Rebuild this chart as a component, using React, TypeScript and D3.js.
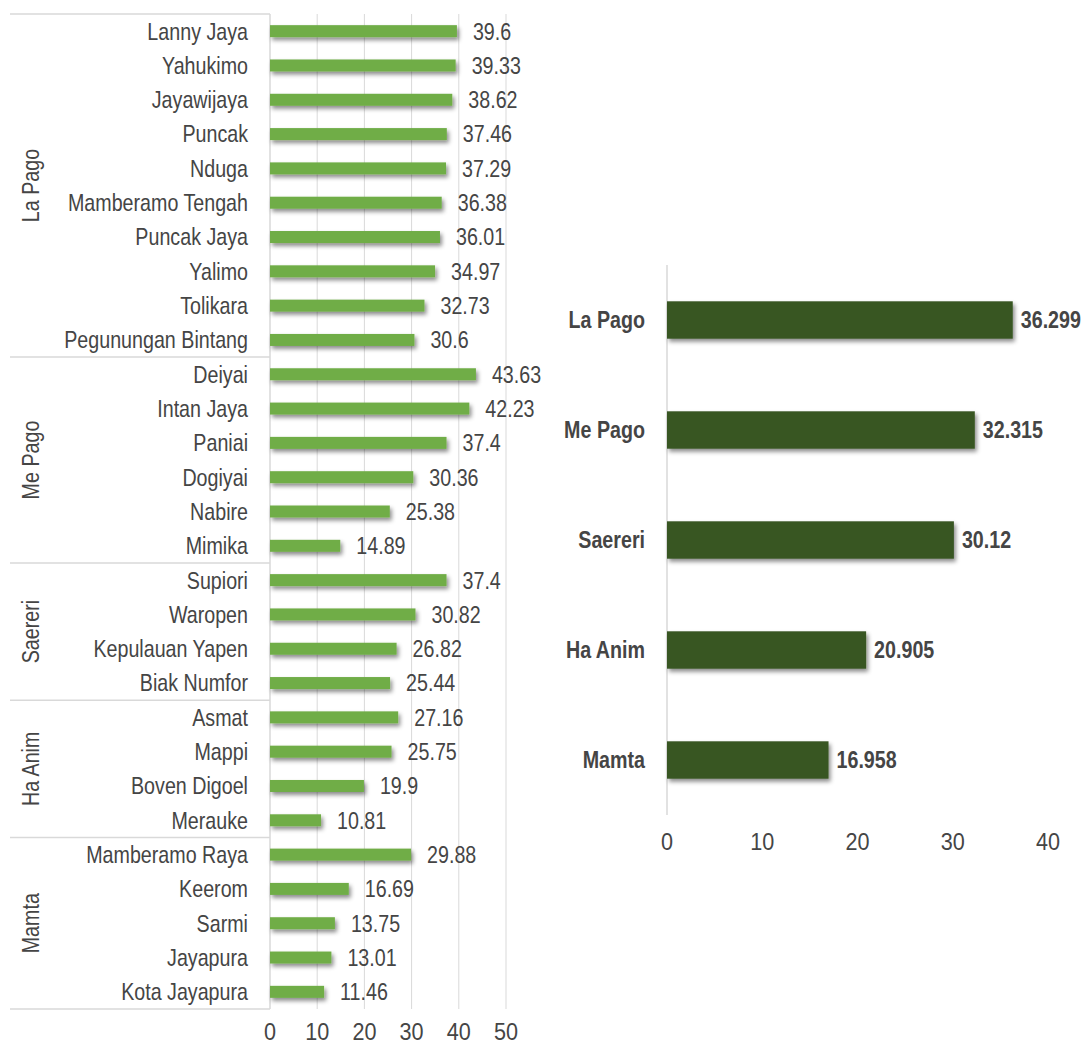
import React from "react";
import * as d3 from "d3";

// Regencies grouped by customary region, with their values
const groups = ["La Pago", "Me Pago", "Saereri", "Ha Anim", "Mamta"];
const regencyGroup = [
  "La Pago", "La Pago", "La Pago", "La Pago", "La Pago", "La Pago", "La Pago", "La Pago", "La Pago", "La Pago",
  "Me Pago", "Me Pago", "Me Pago", "Me Pago", "Me Pago", "Me Pago",
  "Saereri", "Saereri", "Saereri", "Saereri",
  "Ha Anim", "Ha Anim", "Ha Anim", "Ha Anim",
  "Mamta", "Mamta", "Mamta", "Mamta", "Mamta",
];
const regencies = [
  "Lanny Jaya", "Yahukimo", "Jayawijaya", "Puncak", "Nduga", "Mamberamo Tengah", "Puncak Jaya", "Yalimo", "Tolikara", "Pegunungan Bintang",
  "Deiyai", "Intan Jaya", "Paniai", "Dogiyai", "Nabire", "Mimika",
  "Supiori", "Waropen", "Kepulauan Yapen", "Biak Numfor",
  "Asmat", "Mappi", "Boven Digoel", "Merauke",
  "Mamberamo Raya", "Keerom", "Sarmi", "Jayapura", "Kota Jayapura",
];
const regencyValues = [
  39.6, 39.33, 38.62, 37.46, 37.29, 36.38, 36.01, 34.97, 32.73, 30.6,
  43.63, 42.23, 37.4, 30.36, 25.38, 14.89,
  37.4, 30.82, 26.82, 25.44,
  27.16, 25.75, 19.9, 10.81,
  29.88, 16.69, 13.75, 13.01, 11.46,
];
const leftTicks = [0, 10, 20, 30, 40, 50];

// Regional averages
const regions = ["La Pago", "Me Pago", "Saereri", "Ha Anim", "Mamta"];
const regionValues = [36.299, 32.315, 30.12, 20.905, 16.958];
const rightTicks = [0, 10, 20, 30, 40];

const FONT = "'Liberation Sans', Arial, sans-serif";
const TEXT = "#454545";
const GRID = "#d9d9d9";

type NTextProps = {
  x: number;
  y: number;
  anchor?: "start" | "middle" | "end";
  size?: number;
  squeeze?: number;
  bold?: boolean;
  rotate?: number;
  children: React.ReactNode;
};

// Condensed text: horizontally compressed sans glyphs
function NText({ x, y, anchor = "start", size = 24, squeeze = 0.82, bold = false, rotate = 0, children }: NTextProps) {
  return (
    <text
      transform={`translate(${x},${y}) rotate(${rotate}) scale(${squeeze},1)`}
      textAnchor={anchor}
      dy="0.35em"
      fontSize={size}
      fontWeight={bold ? "bold" : "normal"}
      fill={TEXT}
    >
      {children}
    </text>
  );
}

export default function App() {
  const width = 1084;
  const height = 1047;

  // Left panel scales
  const lx = d3.scaleLinear().domain([0, 50]).range([270, 506]);
  const ly = d3.scaleBand<string>().domain(regencies).range([14, 1009]);
  const lBar = 12;

  // Group extents on the left panel
  const groupExtents = groups.map((g) => {
    const idx = regencyGroup.map((gg, i) => (gg === g ? i : -1)).filter((i) => i >= 0);
    const y0 = ly(regencies[idx[0]])!;
    const y1 = ly(regencies[idx[idx.length - 1]])! + ly.bandwidth();
    return { g, y0, y1 };
  });

  // Right panel scales
  const rx = d3.scaleLinear().domain([0, 40]).range([667, 1048]);
  const ry = d3.scaleBand<string>().domain(regions).range([265, 815]);
  const rBar = ry.bandwidth() * 0.34;

  return (
    <svg
      width={width}
      height={height}
      style={{ position: "absolute", left: 0, top: 0, background: "#fff" }}
      fontFamily={FONT}
    >
      <defs>
        <filter id="barShadow" x="-10%" y="-50%" width="130%" height="250%">
          <feDropShadow dx="2" dy="3" stdDeviation="2" floodColor="#000" floodOpacity="0.45" />
        </filter>
      </defs>

      {/* Left panel: gridlines */}
      {leftTicks.slice(1).map((t) => (
        <line key={`lg${t}`} x1={lx(t)} x2={lx(t)} y1={14} y2={1009} stroke={GRID} strokeWidth={1} />
      ))}

      {/* Group separators */}
      {[...groupExtents.map((e) => e.y0), 1009].map((y, i) => (
        <line key={`sep${i}`} x1={10} x2={lx(0)} y1={y} y2={y} stroke={GRID} strokeWidth={1.5} />
      ))}
      <line x1={lx(0)} x2={lx(0)} y1={14} y2={1009} stroke={GRID} strokeWidth={1.5} />

      {/* Bars with category and value labels */}
      {regencies.map((r, i) => {
        const cy = ly(r)! + ly.bandwidth() / 2;
        return (
          <g key={r}>
            <rect
              x={lx(0)}
              y={cy - lBar / 2}
              width={lx(regencyValues[i]) - lx(0)}
              height={lBar}
              fill="#70ad47"
              filter="url(#barShadow)"
            />
            <NText x={lx(0) - 22} y={cy} anchor="end">{r}</NText>
            <NText x={lx(regencyValues[i]) + 16} y={cy}>{regencyValues[i]}</NText>
          </g>
        );
      })}

      {/* Group labels */}
      {groupExtents.map((e) => (
        <NText key={e.g} x={31} y={(e.y0 + e.y1) / 2} anchor="middle" rotate={-90}>
          {e.g}
        </NText>
      ))}

      {/* Left axis ticks */}
      {leftTicks.map((t) => (
        <NText key={`lt${t}`} x={lx(t)} y={1032} anchor="middle" squeeze={0.9}>
          {t}
        </NText>
      ))}

      {/* Right panel */}
      <line x1={rx(0)} x2={rx(0)} y1={265} y2={815} stroke={GRID} strokeWidth={1.5} />
      {regions.map((r, i) => {
        const cy = ry(r)! + ry.bandwidth() / 2;
        return (
          <g key={r}>
            <rect
              x={rx(0)}
              y={cy - rBar / 2}
              width={rx(regionValues[i]) - rx(0)}
              height={rBar}
              fill="#375623"
              filter="url(#barShadow)"
            />
            <NText x={rx(0) - 22} y={cy} anchor="end" bold>{r}</NText>
            <NText x={rx(regionValues[i]) + 8} y={cy} bold>{regionValues[i]}</NText>
          </g>
        );
      })}
      {rightTicks.map((t) => (
        <NText key={`rt${t}`} x={rx(t)} y={842} anchor="middle" squeeze={0.9}>
          {t}
        </NText>
      ))}
    </svg>
  );
}
